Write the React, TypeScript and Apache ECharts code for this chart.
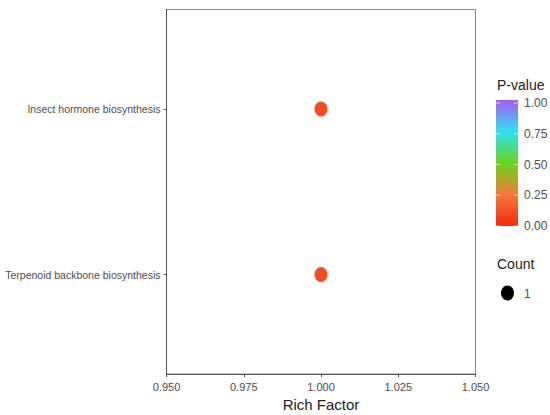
import React, { useEffect, useRef } from "react";
import * as echarts from "echarts";

const categories = ["Terpenoid backbone biosynthesis", "Insect hormone biosynthesis"];
const richFactor = [1.0, 1.0];
const pValues = [0.11, 0.11];
const counts = [1, 1];
const xTicks = [0.95, 0.975, 1.0, 1.025, 1.05];
const pTicks = ["1.00", "0.75", "0.50", "0.25", "0.00"];
const countLegend = ["1"];
const gradientColors = ["#f42a10", "#f5793a", "#66d61c", "#2fe0f2", "#a55cf0"];

const FONT = "'Liberation Sans', Arial, sans-serif";
const LABEL = "#4d4d4d";

export default function App() {
  const ref = useRef<HTMLDivElement>(null);
  useEffect(() => {
    if (!ref.current) return;
    const chart = echarts.init(ref.current, null, { renderer: "svg" });
    const data = categories.map((c, i) => [richFactor[i], i + 1, pValues[i], counts[i]]);
    const barX = 496, barTop = 100, barW = 22, barH = 126;
    const graphic: any[] = [
      { type: "text", left: 497, top: 78, style: { text: "P-value", font: `14px ${FONT}`, fill: "#222" } },
      {
        type: "rect",
        shape: { x: barX, y: barTop, width: barW, height: barH },
        style: {
          fill: new echarts.graphic.LinearGradient(0, 1, 0, 0,
            gradientColors.map((c, i) => ({ offset: i / (gradientColors.length - 1), color: c }))),
        },
      },
    ];
    pTicks.forEach((t, i) => {
      const y = barTop + 3 + i * ((barH - 3) / 4);
      graphic.push({ type: "text", x: 524, y, style: { text: t, font: `12px ${FONT}`, fill: LABEL, verticalAlign: "middle" } });
      graphic.push({ type: "line", shape: { x1: barX, y1: y, x2: barX + 4, y2: y }, style: { stroke: "rgba(255,255,255,0.7)", lineWidth: 1 } });
      graphic.push({ type: "line", shape: { x1: barX + barW - 4, y1: y, x2: barX + barW, y2: y }, style: { stroke: "rgba(255,255,255,0.7)", lineWidth: 1 } });
    });
    graphic.push({ type: "text", left: 497, top: 257, style: { text: "Count", font: `14px ${FONT}`, fill: "#222" } });
    countLegend.forEach((t) => {
      graphic.push({ type: "ellipse", shape: { cx: 507.5, cy: 293, rx: 6.5, ry: 7.5 }, style: { fill: "#000" } });
      graphic.push({ type: "text", x: 524, y: 294, style: { text: t, font: `12px ${FONT}`, fill: LABEL, verticalAlign: "middle" } });
    });

    chart.setOption({
      animation: false,
      backgroundColor: "#fff",
      grid: { left: 166.5, right: 74.5, top: 9.5, bottom: 41, show: true, borderColor: "#8a8a8a", borderWidth: 1,
        backgroundColor: "transparent", containLabel: false, outerBoundsMode: "none" },
      xAxis: {
        type: "value",
        min: 0.95,
        max: 1.05,
        interval: 0.025,
        name: "Rich Factor",
        nameLocation: "middle",
        nameGap: 21,
        nameTextStyle: { fontSize: 15, color: "#222", fontFamily: FONT },
        axisLine: { show: true, lineStyle: { color: "#555" } },
        axisTick: { show: true, length: 3, lineStyle: { color: "#555" } },
        axisLabel: { fontSize: 11, color: LABEL, fontFamily: FONT, margin: 7, formatter: (v: number) => v.toFixed(3),
          customValues: xTicks },
        splitLine: { show: false },
      },
      yAxis: {
        type: "value",
        min: 0.4,
        max: 2.6,
        axisLine: { show: true, lineStyle: { color: "#555" } },
        axisTick: { show: true, length: 3, lineStyle: { color: "#555" }, customValues: [1, 2] },
        axisLabel: { fontSize: 10.5, color: LABEL, fontFamily: FONT, margin: 6, customValues: [1, 2],
          formatter: (v: number) => categories[Math.round(v) - 1] ?? "" },
        splitLine: { show: false },
      },
      visualMap: {
        show: false,
        type: "continuous",
        dimension: 2,
        min: 0,
        max: 1,
        inRange: { color: gradientColors },
        seriesIndex: 0,
      },
      series: [
        {
          type: "scatter",
          data,
          symbol: "circle",
          symbolSize: [13, 15],
          itemStyle: { opacity: 1 },
        },
      ],
      graphic,
    });
    return () => chart.dispose();
  }, []);
  return <div ref={ref} style={{ width: 550, height: 415, position: "absolute", left: 0, top: 0 }} />;
}
